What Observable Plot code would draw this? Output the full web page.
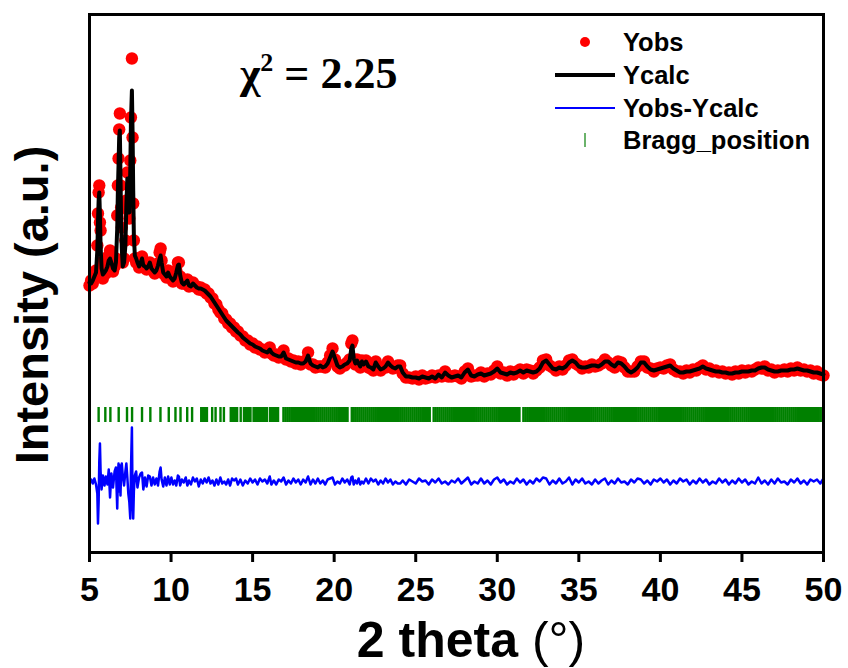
<!DOCTYPE html>
<html><head><meta charset="utf-8">
<script src="https://cdn.jsdelivr.net/npm/d3@7"></script>
<script src="https://cdn.jsdelivr.net/npm/@observablehq/plot@0.6"></script>
<style>body{margin:0;background:#fff} #chart{position:relative;width:848px;height:668px}</style>
</head><body><div id="chart"></div>
<script>
// 2θ positions (degrees)
const twoTheta = [
  5.00,5.10,5.20,5.30,5.40,5.48,5.52,5.56,5.60,5.64,5.68,5.74,5.82,5.92,
  6.00,6.10,6.18,6.26,6.34,6.44,6.54,6.62,6.70,6.74,6.78,6.82,6.86,6.90,6.94,6.98,
  7.04,7.12,7.20,7.26,7.32,7.38,7.44,7.50,7.54,7.60,7.64,7.68,7.72,7.78,7.86,7.94,
  8.04,8.14,8.22,8.30,8.40,8.50,8.60,8.70,8.80,8.90,
  9.00,9.10,9.20,9.30,9.36,9.42,9.52,9.62,9.72,9.82,9.92,
  10.02,10.12,10.22,10.32,10.42,10.48,10.56,10.66,10.78,10.90,
  11.00,11.10,11.22,11.34,11.46,11.58,11.70,11.82,11.94,
  12.06,12.18,12.30,12.42,12.54,12.66,12.78,12.90,
  13.02,13.14,13.26,13.38,13.50,13.62,13.74,13.86,13.98,
  14.10,14.25,14.40,14.55,14.70,14.85,
  15.00,15.15,15.30,15.45,15.60,15.75,15.90,
  16.05,16.15,16.30,16.45,16.60,16.75,16.90,
  17.05,17.20,17.35,17.50,17.65,17.80,17.95,
  18.10,18.25,18.40,18.55,18.70,18.85,
  19.00,19.15,19.30,19.45,19.60,19.75,19.90,
  20.05,20.20,20.35,20.50,20.65,20.80,20.95,
  21.05,21.12,21.20,21.30,21.40,21.50,21.60,21.70,21.80,21.95,
  22.10,22.25,22.40,22.55,22.70,22.85,
  23.00,23.15,23.30,23.45,23.60,23.75,23.90,
  24.05,24.20,24.40,24.60,24.80,
  25.0,25.2,25.4,25.6,25.8, 26.0,26.2,26.4,26.6,26.8, 27.0,27.2,27.4,27.6,27.8,
  28.0,28.2,28.4,28.6,28.8, 29.0,29.2,29.4,29.6,29.8, 30.0,30.2,30.4,30.6,30.8,
  31.0,31.2,31.4,31.6,31.8, 32.0,32.2,32.4,32.6,32.8, 33.0,33.2,33.4,33.6,33.8,
  34.0,34.2,34.4,34.6,34.8, 35.0,35.2,35.4,35.6,35.8, 36.0,36.2,36.4,36.6,36.8,
  37.0,37.2,37.4,37.6,37.8, 38.0,38.2,38.4,38.6,38.8, 39.0,39.2,39.4,39.6,39.8,
  40.0,40.2,40.4,40.6,40.8, 41.0,41.2,41.4,41.6,41.8, 42.0,42.2,42.4,42.6,42.8,
  43.0,43.2,43.4,43.6,43.8, 44.0,44.2,44.4,44.6,44.8, 45.0,45.2,45.4,45.6,45.8,
  46.0,46.2,46.4,46.6,46.8, 47.0,47.2,47.4,47.6,47.8, 48.0,48.2,48.4,48.6,48.8,
  49.0,49.2,49.4,49.6,49.8, 50.0
];
// Calculated profile (a.u.)
const yCalc = [
  270,269,272,276,280,302,330,352,360,337,307,284,278,280,
  282,286,292,294,290,284,282,290,324,362,387,415,422,377,330,304,
  286,290,307,347,374,347,340,382,430,462,422,362,317,297,294,290,
  286,290,294,287,286,284,286,290,284,282,
  280,282,287,294,297,290,280,278,276,280,276,
  274,272,274,280,287,288,277,270,268,270,
  272,267,266,269,267,265,264,264,263,
  262,260,258,256,253,250,247,244,
  241,238,235,232,230,228,226,224,222,
  220,218,215,213,211,209,
  208,206,205,204,202,201,200,
  203,200,198,197,196,196,200,
  194,193,192,191,190,190,189,
  189,191,197,189,187,186,
  185,187,185,186,189,195,201,
  194,187,185,186,188,189,192,
  204,207,194,189,192,189,186,191,188,191,
  186,185,183,190,186,183,
  184,186,190,187,185,184,186,
  186,180,176,176,175,
  175,174,176,175,174, 176,174,178,175,180, 177,175,176,177,175,
  180,183,177,176,178, 179,177,178,179,181, 184,180,179,178,180,
  179,180,182,180,182, 181,180,181,184,190, 192,188,184,183,185,
  184,186,190,192,190, 186,185,185,186,187, 187,186,188,191,191,
  188,186,190,189,186, 182,180,182,185,190, 190,186,183,182,183,
  184,185,186,187,184, 182,180,180,181,181, 182,183,184,186,184,
  183,182,181,181,180, 180,179,179,180,180, 181,181,181,182,182,
  184,185,185,183,182, 181,181,182,182,182, 183,183,184,183,182,
  182,181,180,180,179, 178
];
// Observed profile (a.u.)
const yObs = [
  267,272,269,278,282,307,339,360,367,330,322,290,274,282,
  279,290,297,302,294,281,286,294,337,367,394,423,439,367,345,325,
  290,294,312,352,380,342,334,392,435,494,415,349,312,294,290,294,
  285,291,296,286,287,283,287,290,283,283,
  279,283,289,300,304,292,279,279,275,282,275,
  275,271,275,282,290,290,276,269,269,271,
  273,266,267,270,266,266,263,265,262,
  263,259,259,255,254,249,248,243,
  240,239,234,233,229,229,225,225,221,
  221,217,216,212,212,208,
  209,205,206,203,203,200,201,
  205,199,197,198,195,197,202,
  193,194,191,192,189,191,188,
  190,192,200,188,188,185,
  186,186,186,185,190,197,204,
  193,186,184,187,187,190,193,
  209,212,193,188,193,188,185,192,187,192,
  185,184,182,191,185,182,
  185,185,191,186,184,185,187,
  187,179,175,175,174,
  176,173,177,174,175, 177,175,177,176,181, 176,176,177,176,174,
  181,184,176,177,177, 180,176,179,178,182, 186,179,180,177,181,
  178,181,183,179,183, 182,179,182,185,192, 193,187,185,182,186,
  183,187,192,193,189, 187,184,186,185,188, 186,187,189,193,190,
  187,185,191,190,185, 181,181,181,186,191, 191,185,184,181,184,
  185,184,187,188,183, 181,181,179,182,180, 183,182,185,187,183,
  184,181,182,180,181, 179,180,178,181,179, 182,180,182,181,183,
  185,184,186,182,183, 180,182,181,183,181, 184,182,185,182,183,
  181,182,179,181,178, 177
];
// Difference Yobs - Ycalc (a.u.)
const yDiff = [
  0,2,-2,3,-3,-12,-42,-20,20,38,10,-8,6,-4,
  5,-3,12,-16,8,-6,10,14,-27,5,18,-10,16,-14,12,18,
  6,-4,10,18,4,-12,-20,-37,10,54,-20,-37,-10,6,10,-6,
  4,8,9,-8,4,-5,6,5,-4,4,
  -3,3,-4,10,14,2,-5,4,-4,5,-3,
  4,-3,1,-4,6,5,-4,2,-1,4,
  -4,1,-3,4,0,3,-5,2,-2,
  3,-1,4,-2,1,-4,2,-3,
  4,-2,0,-3,2,-4,3,1,3,
  -3,2,-4,1,-2,3,
  -1,2,-3,3,0,2,-2,
  5,-3,1,-3,2,0,4,
  -3,1,-2,3,-1,2,-3,
  2,-1,5,-3,2,-2,
  3,-2,1,-3,2,3,4,
  -3,0,-2,3,-1,2,-3,
  4,5,-3,1,-2,3,-3,0,-2,3,
  -2,3,0,2,-3,1,
  -2,3,-1,2,-3,0,-2,
  -2,1,-3,2,0,
  -2,3,0,1,-3, 2,-1,3,-2,0, -3,1,-1,3,-2,
  1,4,-3,0,-2, 3,-2,1,-3,2, 4,-1,2,-3,0,
  -2,3,-1,2,-3, 1,-2,3,0,4, 3,-3,1,-2,3,
  -2,0,4,-3,2, -1,3,-2,0,-3, 2,-2,1,3,-3,
  1,-2,3,-1,0, -3,2,-1,3,2, -2,1,-3,2,0,
  3,-1,2,-3,1, -2,3,0,2,-3, 1,-2,3,-1,2,
  -3,0,-2,3,-1, 2,-3,1,-2,3, -1,2,-3,0,-2,
  4,-2,1,-3,2, -2,3,-1,0,-3, 2,-1,3,-2,1,
  -3,2,0,2,-2, 3
];
// Bragg reflection positions (degrees)
const braggPositions = [
  5.56,5.97,6.28,6.79,7.30,7.61,8.22,8.73,9.35,9.86,10.27,10.58,10.99,11.29,
  11.85,11.93,12.01,12.10,12.20,12.52,12.73,13.03,13.24,
  13.66,13.74,13.81,13.89,13.97,14.05,14.27,
  14.47,14.55,14.62,14.70,14.79,14.87,
  15.06,15.14,15.22,15.31,15.39,15.47,15.56,15.64,15.72,15.80,15.88,
  16.07,16.15,16.23,16.31,16.40,16.48,16.56,
  16.89,17.01,17.13,17.25,17.37,17.49,17.61,17.73,17.85,17.97,
  18.09,18.21,18.33,18.45,18.57,18.69,18.81,18.93,
  19.05,19.17,19.29,19.41,19.53,19.65,19.77,19.89,
  20.01,20.13,20.25,20.37,20.49,20.61,20.73,20.82,
  21.08,21.20,21.32,21.44,21.56,21.68,21.80,21.92,
  22.04,22.16,22.28,22.40,22.52,22.64,22.76,22.88,
  23.00,23.12,23.24,23.36,23.48,23.60,23.72,23.84,23.96,
  24.08,24.20,24.32,24.44,24.56,24.68,24.80,24.92,
  25.04,25.16,25.28,25.40,25.52,25.64,25.76,25.86,
  26.10,26.22,26.34,26.46,26.58,26.70,26.82,26.94,
  27.06,27.18,27.30,27.42,27.54,27.66,27.78,27.90,
  28.02,28.14,28.26,28.38,28.50,28.62,28.74,28.86,28.98,
  29.10,29.22,29.34,29.46,29.58,29.70,29.82,29.94,
  30.06,30.18,30.30,30.42,30.54,30.66,30.78,30.90,
  31.02,31.14,31.26,31.36,31.60,31.72,31.84,31.96,
  32.08,32.20,32.31,32.43,32.55,32.67,32.79,32.91,
  33.03,33.15,33.27,33.39,33.51,33.63,33.75,33.87,33.99,
  34.11,34.23,34.35,34.47,34.59,34.71,34.83,34.95,
  35.07,35.19,35.31,35.43,35.55,35.67,35.79,35.91,
  36.03,36.15,36.27,36.39,36.51,36.63,36.75,36.87,36.99,
  37.11,37.23,37.35,37.47,37.59,37.71,37.83,37.95,
  38.07,38.19,38.31,38.43,38.55,38.67,38.79,38.91,
  39.03,39.15,39.27,39.39,39.51,39.63,39.75,39.87,39.99,
  40.11,40.23,40.35,40.47,40.59,40.71,40.83,40.95,
  41.07,41.19,41.31,41.43,41.55,41.67,41.79,41.91,
  42.03,42.15,42.27,42.39,42.51,42.63,42.75,42.87,42.99,
  43.11,43.23,43.35,43.47,43.59,43.71,43.83,43.95,
  44.07,44.19,44.31,44.43,44.55,44.67,44.79,44.91,
  45.03,45.15,45.27,45.39,45.51,45.63,45.75,45.87,45.99,
  46.11,46.23,46.35,46.47,46.59,46.71,46.83,46.95,
  47.07,47.19,47.31,47.43,47.55,47.67,47.79,47.91,
  48.03,48.15,48.27,48.39,48.51,48.63,48.75,48.87,48.99,
  49.11,49.23,49.35,49.47,49.59,49.71,49.83,49.95
];
const xTicks = [5,10,15,20,25,30,35,40,45,50];
const legendLabels = ["Yobs","Ycalc","Yobs-Ycalc","Bragg_position"];
const chiSquared = "2.25";
const xTitle = "2 theta ";
const xTitleUnit = "(°)";
const yTitle = "Intensity (a.u.)";

const diffOffset = 71;   // vertical shift of the difference curve
const braggBand = [130, 145];
const n = Math.min(twoTheta.length, yCalc.length, yObs.length, yDiff.length);
if (n !== twoTheta.length || n !== yCalc.length || n !== yObs.length || n !== yDiff.length)
  console.warn("length mismatch", twoTheta.length, yCalc.length, yObs.length, yDiff.length);
const profile = d3.range(n).map(i => ({x: twoTheta[i], calc: yCalc[i], obs: yObs[i], diff: yDiff[i] + diffOffset}));

const plot = Plot.plot({
  width: 848, height: 668,
  marginLeft: 89, marginRight: 25, marginTop: 14, marginBottom: 116,
  x: {domain: [5, 50]},
  y: {domain: [0, 538], axis: null},
  style: {fontFamily: "'Liberation Sans', Arial, sans-serif", background: "white", overflow: "visible"},
  marks: [
    Plot.ruleX(braggPositions, {x: d => d, y1: braggBand[0], y2: braggBand[1], stroke: "#008000", strokeWidth: 2.4}),
    Plot.line(profile, {x: "x", y: "diff", stroke: "#0000ff", strokeWidth: 2.5}),
    Plot.dot(profile, {x: "x", y: "obs", r: 6.2, fill: "#ff0000", stroke: "none"}),
    Plot.line(profile, {x: "x", y: "calc", stroke: "black", strokeWidth: 4}),
    Plot.frame({stroke: "black", strokeWidth: 3}),
    Plot.axisX({ticks: xTicks, tickSize: 10, tickPadding: 14, fontSize: 34, fontWeight: "bold",
      strokeWidth: 3, label: null, tickFormat: d => String(d)})
  ]
});
document.getElementById("chart").appendChild(plot);

const svg = d3.select(plot);
svg.selectAll("g[aria-label='x-axis tick label'] text").style("font-weight", "bold");

const ov = svg.append("g").attr("fill", "black").attr("text-anchor", "start");
// chi-squared annotation
const chi = ov.append("text").attr("x", 240).attr("y", 88).attr("text-anchor", "start")
  .style("font-family", "'Liberation Serif', 'Times New Roman', serif").style("font-weight", "bold").style("font-size", "44px");
chi.append("tspan").text("χ");
chi.append("tspan").attr("dy", -17).style("font-size", "26px").text("2");
chi.append("tspan").attr("dy", 17).text(" = " + chiSquared);

// axis titles
const xt = ov.append("text").attr("x", 471).attr("y", 657).attr("text-anchor", "middle")
  .style("font-size", "50px").style("font-weight", "bold");
xt.append("tspan").text(xTitle);
xt.append("tspan").style("font-weight", "normal").text(xTitleUnit);
ov.append("text").attr("transform", "translate(48,305) rotate(-90)").attr("text-anchor", "middle")
  .style("font-size", "47px").style("font-weight", "bold").text(yTitle);

// legend
const lg = ov.append("g");
const rows = [42, 75, 108, 140];
lg.append("circle").attr("cx", 585).attr("cy", rows[0]).attr("r", 5).attr("fill", "#ff0000");
lg.append("line").attr("x1", 555).attr("x2", 615).attr("y1", rows[1]).attr("y2", rows[1]).attr("stroke", "black").attr("stroke-width", 4);
lg.append("line").attr("x1", 555).attr("x2", 615).attr("y1", rows[2]).attr("y2", rows[2]).attr("stroke", "#0000ff").attr("stroke-width", 2);
lg.append("line").attr("x1", 585).attr("x2", 585).attr("y1", rows[3] - 7).attr("y2", rows[3] + 7).attr("stroke", "#3a9a3a").attr("stroke-width", 1.5);
legendLabels.forEach((t, i) => {
  lg.append("text").attr("x", 623).attr("y", rows[i] + 9).attr("text-anchor", "start")
    .style("font-size", "25.5px").style("font-weight", "bold").text(t);
});
</script>
</body></html>
